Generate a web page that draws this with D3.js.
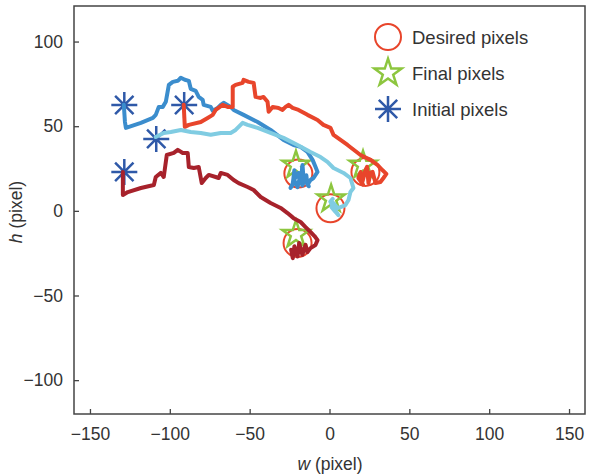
<!DOCTYPE html>
<html>
<head>
<meta charset="utf-8">
<script src="https://cdn.jsdelivr.net/npm/d3@7"></script>
<style>
  body { margin: 0; background: #fff; }
  text { font-family: "Liberation Sans", Arial, sans-serif; fill: #333; }
</style>
</head>
<body>
<div id="chart"></div>
<script>
// tracks of the four pixels, [w, h]
var blueTrack = [
  [-128.8, 62.6], [-128.1, 52.5], [-127.5, 49], [-118.1, 52], [-110.6, 54.9], [-108.8, 56.7],
  [-106.9, 61.4], [-104.4, 61.4], [-102.5, 64.4], [-100.6, 74.4], [-98.1, 76.2], [-95, 76.8],
  [-93.1, 78.6], [-90.6, 77.4], [-88.1, 76.8], [-86.9, 72.1], [-83.8, 70.9], [-81.9, 67.3],
  [-79.4, 65.6], [-78.8, 62.6], [-74.4, 61.4], [-73.1, 59.1], [-70, 60.8], [-68.1, 62.6],
  [-66.3, 63.8], [-61.9, 61.4], [-60, 59.6], [-53.8, 56.7], [-45, 52.5], [-36.9, 47.8],
  [-28.8, 41.9], [-22.5, 38.9], [-18.1, 37.8], [-13.8, 34.8], [-10.6, 30.1], [-8.8, 26],
  [-7.5, 23], [-10, 19.4], [-11.9, 18.2], [-13.8, 15.3], [-14.5, 21], [-16.3, 19.4],
  [-16.9, 27.1], [-18, 18], [-19.4, 22.4], [-21.3, 19.4], [-22, 24], [-23.1, 15.3],
  [-24.4, 13.5], [-22, 18], [-20, 14], [-18.5, 20], [-17, 15], [-15, 19], [-13, 14.5]
];
var redTrack = [
  [-91.3, 62.6], [-90.6, 49.6], [-88.1, 50.8], [-80.6, 52.5], [-76.3, 54.9], [-73.1, 56.7],
  [-71.3, 59.6], [-66.9, 62.6], [-63.8, 61.4], [-60.6, 61.4], [-60.6, 73.3], [-58.8, 74.4],
  [-54.4, 75.6], [-53.8, 77.4], [-50.6, 76.2], [-47.5, 75.6], [-46.3, 67.3], [-43.1, 66.7],
  [-41.3, 67.3], [-38.8, 64.4], [-38.1, 58.5], [-35.6, 61.4], [-31.9, 60.8], [-29.4, 59.6],
  [-27.5, 61.4], [-25.6, 62.6], [-23.1, 60.8], [-19.4, 59.6], [-13.8, 56.7], [-7.5, 53.7],
  [-3.8, 50.8], [0.6, 49], [2.5, 44.9], [11.3, 38.9], [19.4, 33], [25.6, 30.1], [30, 27.1],
  [33.1, 24.1], [35.6, 21.8], [33.8, 19.4], [31.9, 17], [28.8, 16.4], [27, 23], [25.6, 22.4],
  [24.4, 16.4], [23.5, 26], [22.5, 24.1], [20.6, 17], [19.5, 23], [18.1, 19.4], [21, 15.5]
];
var lightTrack = [
  [-108.8, 43.6], [-103.8, 46], [-99.4, 46.6], [-93.1, 47.8], [-86.9, 46.6], [-80.6, 46],
  [-74.4, 44.9], [-68.1, 46], [-61.9, 46], [-58.8, 47.8], [-56.9, 49.6], [-54.4, 52],
  [-51.3, 50.8], [-45, 49], [-36.9, 46], [-28.8, 43.1], [-20, 38.9], [-11.9, 34.8],
  [-5.6, 31.8], [-1.3, 28.9], [2.5, 25.3], [8.8, 22.4], [13.1, 19.4], [14.4, 15.3],
  [15, 13.5], [13.1, 11.1], [11.9, 6.4], [10, 3.4], [6.9, 2.2], [5, 1.7], [2.5, 4.6],
  [3.8, -0.7], [1.3, 2.2], [5.6, -2.5], [3, 1], [0.5, 5.5], [2, 7]
];
var darkTrack = [
  [-129.4, 23], [-129.4, 9.3], [-126.3, 11.1], [-118.1, 13.5], [-110, 15.3], [-108.8, 20],
  [-105.6, 22.4], [-103.8, 20], [-101.9, 33], [-97.5, 34.2], [-95, 36], [-91.9, 34.2],
  [-88.8, 34.2], [-88.1, 25.9], [-85, 25.3], [-81.9, 25.9], [-80, 16.4], [-77.5, 19.4],
  [-75.6, 21.2], [-71.3, 20], [-69.4, 19.4], [-68.1, 22.4], [-63.8, 21.2], [-60, 18.2],
  [-56.9, 16.4], [-51.3, 14.1], [-47.5, 12.3], [-43.1, 8.2], [-36.9, 4.6], [-30.6, 1.7],
  [-26.3, -1.3], [-22.5, -4.3], [-18.1, -6.6], [-15, -9.6], [-11.9, -12.5], [-9.4, -14.9],
  [-7.5, -17.3], [-8.8, -20.2], [-11.9, -22], [-13.8, -24.4], [-15, -20], [-17, -26],
  [-19, -19], [-20, -27], [-22, -21], [-23, -28], [-24, -23], [-21, -25]
];
var desired = [[-19.5, 22], [22.5, 23], [0.6, 1.5], [-20, -19]];
var finalPx = [[-21, 27], [21, 27], [1, 7], [-21, -14]];
var initial = [[-128.5, 62.5], [-91, 62.5], [-108.5, 42.5], [-128.5, 23]];

var xTicks = [-150, -100, -50, 0, 50, 100, 150];
var yTicks = [-100, -50, 0, 50, 100];
var legendLabels = ["Desired pixels", "Final pixels", "Initial pixels"];

var tracks = [
  { pts: blueTrack, color: "#3b8dcd" },
  { pts: redTrack, color: "#e8452b" },
  { pts: lightTrack, color: "#80cce2" },
  { pts: darkTrack, color: "#a7222b" }
];

var W = 591, H = 476;
var margin = { top: 6, right: 6, bottom: 62, left: 74 },
  width = W - margin.left - margin.right,
  height = H - margin.top - margin.bottom;

var svg = d3.select("#chart").append("svg")
  .attr("width", W)
  .attr("height", H);

var g = svg.append("g")
  .attr("transform", "translate(" + margin.left + "," + margin.top + ")");

var x = d3.scaleLinear().domain([-160, 160]).range([0, width]);
var y = d3.scaleLinear().domain([-120, 121]).range([height, 0]);

// axes, ticks pointing inward
var xAxis = g.append("g")
  .attr("transform", "translate(0," + height + ")")
  .call(d3.axisBottom(x).tickValues(xTicks).tickSizeInner(-5).tickSizeOuter(0).tickPadding(14));
var yAxis = g.append("g")
  .call(d3.axisLeft(y).tickValues(yTicks).tickSizeInner(-5).tickSizeOuter(0).tickPadding(11));

[xAxis, yAxis].forEach(function (a) {
  a.select(".domain").remove();
  a.selectAll("line").attr("stroke", "#444").attr("stroke-width", 1.3);
  a.selectAll("text").style("font-size", "17.5px").attr("fill", "#333")
    .style("font-family", "'Liberation Sans', Arial, sans-serif");
});

g.append("rect")
  .attr("width", width)
  .attr("height", height)
  .attr("fill", "none")
  .attr("stroke", "#444")
  .attr("stroke-width", 1.5);

// markers
var starSym = d3.symbol().type(d3.symbolStar).size(230);
var astR = 13, astD = astR * 0.707;
var asteriskPath = "M" + (-astR) + ",0L" + astR + ",0M0," + (-astR) + "L0," + astR +
  "M" + (-astD) + "," + (-astD) + "L" + astD + "," + astD +
  "M" + (-astD) + "," + astD + "L" + astD + "," + (-astD);

g.selectAll(".initial")
  .data(initial)
  .enter()
  .append("path")
  .attr("class", "initial")
  .attr("d", asteriskPath)
  .attr("transform", function (d) { return "translate(" + x(d[0]) + "," + y(d[1]) + ")"; })
  .attr("fill", "none")
  .attr("stroke", "#2f59a8")
  .attr("stroke-width", 2.5);

g.selectAll(".desired")
  .data(desired)
  .enter()
  .append("circle")
  .attr("class", "desired")
  .attr("cx", function (d) { return x(d[0]); })
  .attr("cy", function (d) { return y(d[1]); })
  .attr("r", 14)
  .attr("fill", "none")
  .attr("stroke", "#e8452b")
  .attr("stroke-width", 2);

g.selectAll(".final")
  .data(finalPx)
  .enter()
  .append("path")
  .attr("class", "final")
  .attr("d", starSym)
  .attr("transform", function (d) { return "translate(" + x(d[0]) + "," + y(d[1]) + ")"; })
  .attr("fill", "none")
  .attr("stroke", "#8dc63f")
  .attr("stroke-width", 2.5);

var line = d3.line()
  .x(function (d) { return x(d[0]); })
  .y(function (d) { return y(d[1]); });

g.selectAll(".track")
  .data(tracks)
  .enter()
  .append("path")
  .attr("class", "track")
  .attr("d", function (d) { return line(d.pts); })
  .attr("fill", "none")
  .attr("stroke", function (d) { return d.color; })
  .attr("stroke-width", 4)
  .attr("stroke-linejoin", "round")
  .attr("stroke-linecap", "round");

// legend
var legend = g.append("g").attr("transform", "translate(314,31)");
legendLabels.forEach(function (lab, i) {
  var row = legend.append("g").attr("transform", "translate(0," + i * 36 + ")");
  if (i == 0) {
    row.append("circle").attr("r", 13).attr("fill", "none")
      .attr("stroke", "#e8452b").attr("stroke-width", 2);
  } else if (i == 1) {
    row.append("path").attr("d", starSym).attr("fill", "none")
      .attr("stroke", "#8dc63f").attr("stroke-width", 2.5);
  } else {
    row.append("path").attr("d", asteriskPath).attr("fill", "none")
      .attr("stroke", "#2f59a8").attr("stroke-width", 2.5);
  }
  row.append("text")
    .attr("x", 24)
    .attr("y", 7)
    .style("font-size", "18.5px")
    .text(lab);
});

// axis titles
var xt = svg.append("text")
  .attr("x", 330)
  .attr("y", 470)
  .attr("text-anchor", "middle")
  .style("font-size", "17.5px");
xt.append("tspan").style("font-style", "italic").text("w");
xt.append("tspan").text(" (pixel)");

var yt = svg.append("text")
  .attr("transform", "translate(22,212) rotate(-90)")
  .attr("text-anchor", "middle")
  .style("font-size", "17.5px");
yt.append("tspan").style("font-style", "italic").text("h");
yt.append("tspan").text(" (pixel)");
</script>
</body>
</html>
